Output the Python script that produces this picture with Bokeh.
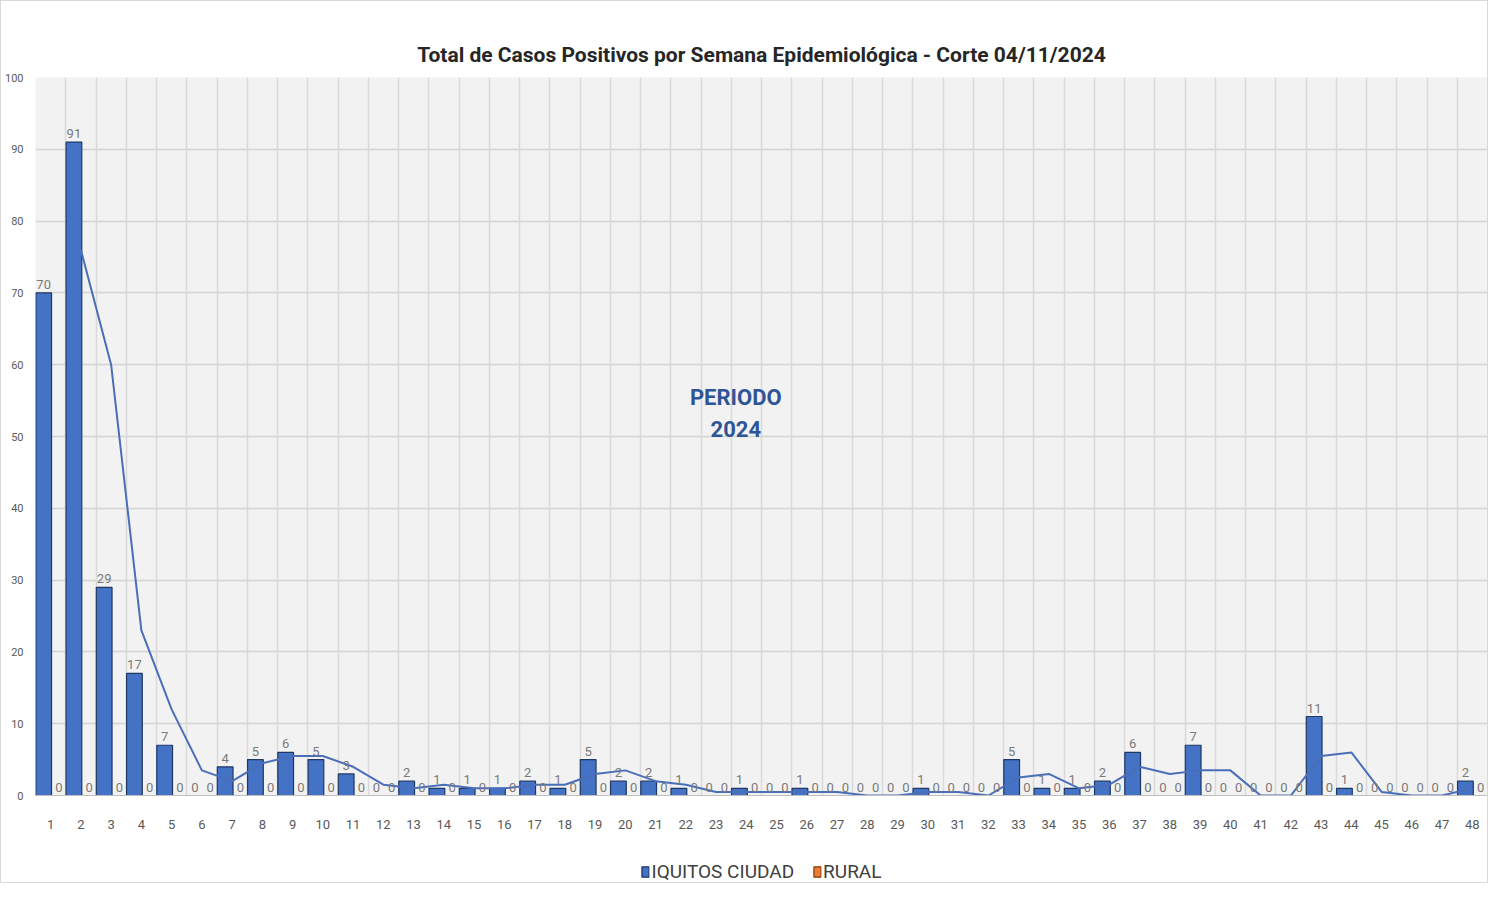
from bokeh.plotting import figure
from bokeh.layouts import column
from bokeh.models import (ColumnDataSource, LabelSet, Label, Legend, LegendItem,
                          FixedTicker, Grid, Range1d)
from bokeh.core.properties import value
from bokeh.transform import dodge
from bokeh.embed import file_html
from bokeh.resources import INLINE

FONT = "Roboto"

weeks = list(range(1, 49))
iquitos = [70, 91, 29, 17, 7, 0, 4, 5, 6, 5, 3, 0, 2, 1, 1, 1, 2, 1, 5, 2,
           2, 1, 0, 1, 0, 1, 0, 0, 0, 1, 0, 0, 5, 1, 1, 2, 6, 0, 7, 0,
           0, 0, 11, 1, 0, 0, 0, 2]
rural = [0] * 48
trend_weeks = list(range(2, 49))
trend = [76, 60, 23, 12, 3.5, 2, 4.5, 5.5, 5.5, 4, 1.5, 1, 1.5, 1, 1, 1.5,
         1.5, 3, 3.5, 2, 1.5, 0.5, 0.5, 0.5, 0.5, 0.5, 0, 0, 0.5, 0.5, 0,
         2.5, 3, 1, 1.5, 4, 3, 3.5, 3.5, 0, 0, 5.5, 6, 0.5, 0, 0, 1]
y_ticks = list(range(0, 101, 10))
series_names = ["IQUITOS CIUDAD", "RURAL"]
series_colors = ["#4472C4", "#ED7D31"]
series_edges = ["#1F3864", "#843C0C"]
title_text = "Total de Casos Positivos por Semana Epidemiológica - Corte 04/11/2024"

src = ColumnDataSource(dict(
    week=weeks,
    iq=iquitos,
    ru=rural,
    iq_lbl=[str(v) for v in iquitos],
    ru_lbl=[str(v) for v in rural],
))

BORDER = "1px solid #d9d9d9"

p = figure(width=1488, height=832, output_backend="svg", toolbar_location=None,
           x_range=Range1d(0.5, 48.5), y_range=Range1d(0, 100),
           min_border_left=29, min_border_right=2, min_border_top=76,
           min_border_bottom=38)
p.styles = {"border": BORDER, "border-bottom": "none"}
p.background_fill_color = "#f2f2f2"
p.outline_line_color = None

p.title.text = title_text
p.title.align = "center"
p.title.text_font = FONT
p.title.text_font_size = "21px"
p.title.text_font_style = "bold"
p.title.text_color = "#262626"
p.title.standoff = 22

p.vbar(x=dodge("week", -0.23, range=p.x_range), top="iq", width=0.52,
       source=src, fill_color=series_colors[0], line_color=series_edges[0], line_width=1.2)
p.vbar(x=dodge("week", 0.27, range=p.x_range), top="ru", width=0.52,
       source=src, fill_color=series_colors[1], line_color=series_edges[1], line_width=1.2)

p.line(trend_weeks, trend, line_color="#4A6EB8", line_width=2)

lbl_style = dict(text_font=value(FONT), text_font_size="13px", text_color="#7a7a7a",
                 text_align="center", text_baseline="bottom", y_offset=4)
p.add_layout(LabelSet(x=dodge("week", -0.23, range=p.x_range), y="iq", text="iq_lbl",
                      source=src, **lbl_style))
p.add_layout(LabelSet(x=dodge("week", 0.27, range=p.x_range), y="ru", text="ru_lbl",
                      source=src, **lbl_style))

for txt, yv in (("PERIODO", 55.4), ("2024", 51.1)):
    p.add_layout(Label(x=23.65, y=yv, text=txt, text_font=FONT,
                       text_font_size="22px", text_font_style="bold",
                       text_color="#2F5597", text_align="center",
                       text_baseline="middle"))

# axes
p.xaxis.ticker = FixedTicker(ticks=weeks)
p.xaxis.axis_line_color = "#bfbfbf"
p.xaxis.major_tick_line_color = None
p.xaxis.minor_tick_line_color = None
p.xaxis.major_label_text_font = FONT
p.xaxis.major_label_text_font_size = "13px"
p.xaxis.major_label_text_color = "#595959"
p.xaxis.major_label_standoff = 18

p.yaxis.ticker = FixedTicker(ticks=y_ticks)
p.yaxis.axis_line_color = None
p.yaxis.major_tick_line_color = None
p.yaxis.minor_tick_line_color = None
p.yaxis.major_label_text_font = FONT
p.yaxis.major_label_text_font_size = "11px"
p.yaxis.major_label_text_color = "#595959"
p.yaxis.major_label_standoff = 6

p.ygrid.ticker = FixedTicker(ticks=y_ticks)
p.ygrid.grid_line_color = "#d4d4d4"
p.ygrid.grid_line_width = 1.5
p.xgrid.visible = False
bounds = [w + 0.5 for w in weeks[:-1]]
p.add_layout(Grid(dimension=0, ticker=FixedTicker(ticks=bounds),
                  grid_line_color="#d9d9d9", grid_line_width=1.5))

# legend strip below the chart (hidden proxy renderers only feed the legend)
pl = figure(width=1488, height=51, output_backend="svg", toolbar_location=None,
            x_range=Range1d(0, 1), y_range=Range1d(0, 1),
            min_border=0)
pl.styles = {"border": BORDER, "border-top": "none"}
pl.axis.visible = False
pl.grid.visible = False
pl.outline_line_color = None
items = []
for name, col, edge in zip(series_names, series_colors, series_edges):
    r = pl.vbar(x=[0.5], top=[1], width=0.1, fill_color=col, line_color=edge,
                line_width=1.2)
    r.visible = False
    items.append(LegendItem(label=name, renderers=[r]))
legend = Legend(items=items, orientation="horizontal", location="bottom_center",
                label_text_font=FONT, label_text_font_size="19px",
                label_text_color="#404040", glyph_width=9, glyph_height=13,
                label_standoff=2, spacing=18, border_line_color=None,
                background_fill_alpha=0, margin=0, padding=4)
pl.add_layout(legend, "center")

layout = column(p, pl, spacing=0)
open("out.html", "w").write(file_html(layout, INLINE))
